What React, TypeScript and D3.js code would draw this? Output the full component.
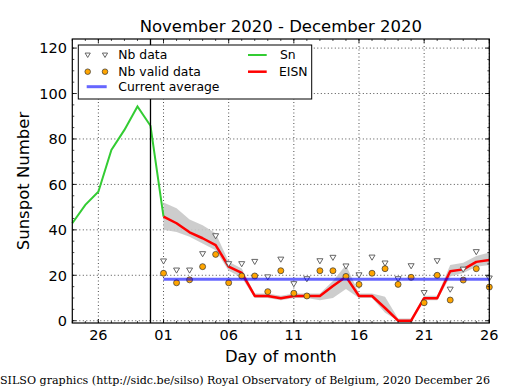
import React from "react";
import * as d3 from "d3";

const snDays = ["2020-11-24", "2020-11-25", "2020-11-26", "2020-11-27", "2020-11-28", "2020-11-29", "2020-11-30", "2020-12-01"];
const snValues = [42.9, 51, 56.8, 75.2, 84, 94.3, 85.8, 45.8];

const decDays = d3.range(1, 27).map((d) => `2020-12-${String(d).padStart(2, "0")}`);
const eisnValues = [45.8, 42.9, 38.9, 36.3, 33.3, 23.8, 21.1, 10.9, 10.9, 9.9, 10.9, 10.9, 10.9, 15.3, 19.4, 10.9, 10.9, 5.6, 0, 0, 9.9, 9.9, 21.8, 22.6, 25.9, 26.7];
const bandLower = [40, 39, 37, 34, 31, 22, 19, 10, 10, 9, 10, 10, 9, 10, 14, 10, 10, 3.5, 0, 0, 9, 9, 19.5, 21, 23.8, 24.5];
const bandUpper = [52, 49.5, 44.5, 42, 38.5, 26, 23, 12, 12, 11, 12, 12, 12, 17.5, 24.5, 12, 12, 10.5, 1, 1, 11, 11, 24.5, 25.5, 28.5, 30];
const nbData = [26.2, 22.2, 22.2, 29.4, 37.3, 25, 25, 26, 19.2, 27, 16.2, 18.4, 26.3, 27.8, 24, 20.1, 27.9, 25.3, 18.4, 24.1, 12.3, 26.3, 13.8, 22.6, 30.3, 18.7];
const nbValid = [20.9, 16.7, 18, 23.8, 29.2, 16.7, 19.7, 19.7, 12.8, 22, 12.1, 10.9, 22, 22, 19.5, 16, 20.9, 22.9, 16, 19.1, 7.9, 20, 9.1, 17.9, 22.9, 14.8];
const currentAverage = 18.3;

const xTickDays = ["2020-11-26", "2020-12-01", "2020-12-06", "2020-12-11", "2020-12-16", "2020-12-21", "2020-12-26"];
const yTicks = [0, 20, 40, 60, 80, 100, 120];

const W = 515, H = 390;
const L = 72.3, R = 489.3, T = 39, B = 323;
const parse = (s: string) => new Date(s + "T00:00:00Z");

export default function App() {
  const x = d3.scaleUtc().domain([parse("2020-11-24"), parse("2020-12-26")]).range([L, R]);
  const y = d3.scaleLinear().domain([-1, 124]).range([B, T]);

  const snLine = d3.line<number>().x((_, i) => x(parse(snDays[i]))).y((v) => y(v))(snValues) || "";
  const eisnLine = d3.line<number>().x((_, i) => x(parse(decDays[i]))).y((v) => y(v))(eisnValues) || "";
  const band = d3
    .area<number>()
    .x((_, i) => x(parse(decDays[i])))
    .y0((_, i) => y(bandLower[i]))
    .y1((v) => y(v))(bandUpper) || "";

  const minorX = d3.utcDay.range(parse("2020-11-24"), parse("2020-12-27"));
  const minorY = d3.range(0, 125, 5);
  const font = "DejaVu Sans, sans-serif";
  const tri = (cx: number, cy: number, s = 3) => `M${cx - s},${cy - s * 0.75}L${cx + s},${cy - s * 0.75}L${cx},${cy + s * 0.95}Z`;

  return (
    <svg width={W} height={H} style={{ position: "absolute", left: 0, top: 0, background: "#fff" }}>
      <rect x={0} y={0} width={W} height={H} fill="#fff" />
      {/* grid */}
      {xTickDays.map((d) => (
        <line key={"gx" + d} x1={x(parse(d))} x2={x(parse(d))} y1={T} y2={B} stroke="#000" strokeWidth={0.7} strokeDasharray="1,2.5" />
      ))}
      {yTicks.map((v) => (
        <line key={"gy" + v} x1={L} x2={R} y1={y(v)} y2={y(v)} stroke="#000" strokeWidth={0.7} strokeDasharray="1,2.5" />
      ))}
      {/* band */}
      <path d={band} fill="#c8c8c8" stroke="none" opacity={0.9} />
      <path d={snLine} fill="none" stroke="#33cc33" strokeWidth={2} />
      <path d={eisnLine} fill="none" stroke="#ff0000" strokeWidth={2.5} strokeLinejoin="round" />
      {nbData.map((v, i) => (
        <path key={"t" + i} d={tri(x(parse(decDays[i])), y(v))} fill="#fff" stroke="#555" strokeWidth={0.9} />
      ))}
      {nbValid.map((v, i) => (
        <circle key={"c" + i} cx={x(parse(decDays[i]))} cy={y(v)} r={3} fill="#ffa500" stroke="#333" strokeWidth={0.7} />
      ))}
      <line x1={x(parse(decDays[0]))} x2={x(parse(decDays[decDays.length - 1]))} y1={y(currentAverage)} y2={y(currentAverage)} stroke="blue" strokeOpacity={0.6} strokeWidth={3} />
      <line x1={x(parse("2020-11-30"))} x2={x(parse("2020-11-30"))} y1={T} y2={B} stroke="#000" strokeWidth={1.3} />
      {/* ticks */}
      {minorX.map((d, i) => (
        <g key={"mx" + i}>
          <line x1={x(d)} x2={x(d)} y1={B} y2={B - 2} stroke="#000" strokeWidth={0.7} />
          <line x1={x(d)} x2={x(d)} y1={T} y2={T + 2} stroke="#000" strokeWidth={0.7} />
        </g>
      ))}
      {xTickDays.map((d) => (
        <g key={"tx" + d}>
          <line x1={x(parse(d))} x2={x(parse(d))} y1={B} y2={B - 4} stroke="#000" strokeWidth={0.8} />
          <line x1={x(parse(d))} x2={x(parse(d))} y1={T} y2={T + 4} stroke="#000" strokeWidth={0.8} />
          <text x={x(parse(d))} y={340} textAnchor="middle" fontFamily={font} fontSize={14.5}>
            {d3.utcFormat("%d")(parse(d))}
          </text>
        </g>
      ))}
      {minorY.map((v) => (
        <g key={"my" + v}>
          <line x1={L} x2={L + 2} y1={y(v)} y2={y(v)} stroke="#000" strokeWidth={0.7} />
          <line x1={R} x2={R - 2} y1={y(v)} y2={y(v)} stroke="#000" strokeWidth={0.7} />
        </g>
      ))}
      {yTicks.map((v) => (
        <g key={"ty" + v}>
          <line x1={L} x2={L + 4} y1={y(v)} y2={y(v)} stroke="#000" strokeWidth={0.8} />
          <line x1={R} x2={R - 4} y1={y(v)} y2={y(v)} stroke="#000" strokeWidth={0.8} />
          <text x={67} y={y(v)} dy="0.36em" textAnchor="end" fontFamily={font} fontSize={14.5}>
            {v}
          </text>
        </g>
      ))}
      <rect x={L} y={T} width={R - L} height={B - T} fill="none" stroke="#000" strokeWidth={1.2} />
      {/* legend */}
      <rect x={78.3} y={45} width={233.4} height={54} fill="#fff" stroke="#000" strokeWidth={1} />
      <path d={tri(87.7, 55, 2.6)} fill="#fff" stroke="#555" strokeWidth={0.9} />
      <path d={tri(105, 55, 2.6)} fill="#fff" stroke="#555" strokeWidth={0.9} />
      <text x={118.3} y={55} dy="0.36em" fontFamily={font} fontSize={12.4}>Nb data</text>
      <circle cx={87.7} cy={71.7} r={2.8} fill="#ffa500" stroke="#333" strokeWidth={0.7} />
      <circle cx={105} cy={71.7} r={2.8} fill="#ffa500" stroke="#333" strokeWidth={0.7} />
      <text x={118.3} y={71.7} dy="0.36em" fontFamily={font} fontSize={12.4}>Nb valid data</text>
      <line x1={86.7} x2={106.7} y1={86.7} y2={86.7} stroke="blue" strokeOpacity={0.6} strokeWidth={3} />
      <text x={118.3} y={86.7} dy="0.36em" fontFamily={font} fontSize={12.4}>Current average</text>
      <line x1={248} x2={266.7} y1={55} y2={55} stroke="#33cc33" strokeWidth={2} />
      <text x={280} y={55} dy="0.36em" fontFamily={font} fontSize={12.4}>Sn</text>
      <line x1={248} x2={266.7} y1={71.7} y2={71.7} stroke="#ff0000" strokeWidth={2.5} />
      <text x={279} y={71.7} dy="0.36em" fontFamily={font} fontSize={12.4}>EISN</text>
      {/* titles */}
      <text x={(L + R) / 2} y={32} textAnchor="middle" fontFamily={font} fontSize={16.5}>
        November 2020 - December 2020
      </text>
      <text x={(L + R) / 2} y={362} textAnchor="middle" fontFamily={font} fontSize={16.4}>
        Day of month
      </text>
      <text transform={`translate(28.5,${(T + B) / 2}) rotate(-90)`} textAnchor="middle" fontFamily={font} fontSize={16.5}>
        Sunspot Number
      </text>
      <text x={0} y={384} fontFamily="DejaVu Serif, serif" fontSize={11.1}>
        SILSO graphics (http://sidc.be/silso) Royal Observatory of Belgium, 2020 December 26
      </text>
    </svg>
  );
}
